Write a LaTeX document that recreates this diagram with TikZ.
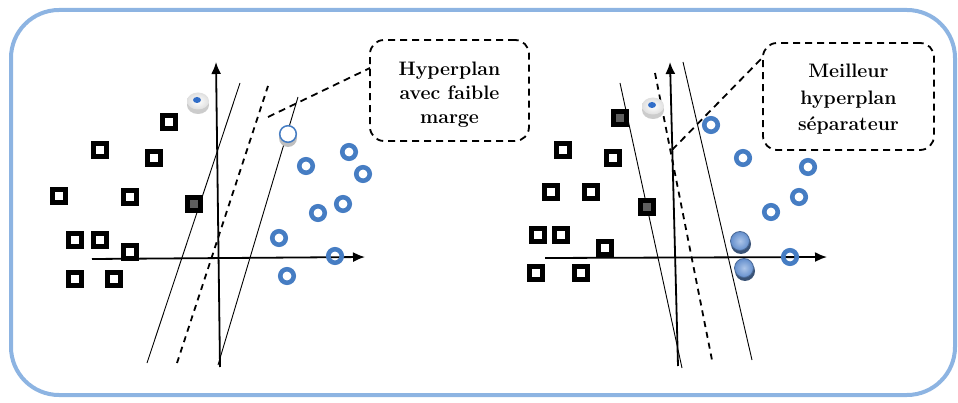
\documentclass[tikz,border=0pt]{standalone}
\usepackage{fontspec}
\usetikzlibrary{arrows.meta}
\definecolor{frameblue}{RGB}{141,180,226}
\definecolor{ringblue}{RGB}{70,125,195}
\definecolor{sqgray}{RGB}{95,95,95}
\definecolor{ballblue}{RGB}{105,150,215}
\definecolor{dotblue}{RGB}{50,110,200}
\begin{document}
\begin{tikzpicture}[x=1pt,y=-1pt,
  sq/.style={draw=black,line width=4.5pt,minimum size=13pt,inner sep=0pt,rectangle},
  gsq/.style={sq,fill=sqgray},
  ring/.style={draw=ringblue,line width=4.6pt,circle,minimum size=13.5pt,inner sep=0pt},
  axis/.style={line width=1.8pt,-{Latex[length=12pt,width=10pt]}},
  sep/.style={line width=0.9pt},
  mid/.style={line width=1.8pt,dash pattern=on 6pt off 5pt},
  callout/.style={draw,line width=1.8pt,dash pattern=on 7pt off 5pt,rounded corners=14pt,inner sep=0pt},
  lead/.style={line width=1.8pt,dash pattern=on 7pt off 5pt},
  lbl/.style={font=\fontsize{19.5}{24}\selectfont\bfseries,align=center,inner sep=0pt},
  bball/.style={inner color=ballblue!55!white,outer color=ballblue!95!black,draw=ballblue!70!black,line width=0.8pt}]
\useasboundingbox (0,0) rectangle (958,403);
% frame
\draw[frameblue,line width=4pt,rounded corners=48pt] (11,10) rectangle (955,395);

%% ---------- left panel ----------
\draw[axis] (92,259) -- (365,257);
\draw[axis] (220,367) -- (216,62);
\draw[sep] (147,363) -- (240,83);
\draw[mid] (177,363) -- (268,86);
\draw[sep] (218,365) -- (298,97);

\node[sq] (a1) at (169,122) {};
\node[sq] (a2) at (100,150) {};
\node[sq] (a3) at (154,158) {};
\node[sq] (a4) at (59,196) {};
\node[sq] (a5) at (130,197) {};
\node[gsq] (a6) at (194,204) {};
\node[sq] (a7) at (75,240) {};
\node[sq] (a8) at (100,240) {};
\node[sq] (a9) at (130,252) {};
\node[sq] (a10) at (75,279) {};
\node[sq] (a11) at (114,279) {};

\node[ring] (b1) at (306,166) {};
\node[ring] (b2) at (349,152) {};
\node[ring] (b3) at (363,174) {};
\node[ring] (b4) at (343,204) {};
\node[ring] (b5) at (318,213) {};
\node[ring] (b6) at (279,238) {};
\node[ring] (b7) at (335,256) {};
\node[ring] (b8) at (287,276) {};

% support vectors (left)
\fill[gray!40] (198,105) ellipse (11pt and 9pt);
\shade[inner color=white,outer color=gray!25] (198,101) ellipse (11pt and 8.5pt);
\fill[dotblue] (197,100) ellipse (4pt and 3pt);
\fill[gray!50] (288,138) circle (9pt);
\filldraw[fill=white,draw=ringblue,line width=1.5pt] (288,134) circle (8.3pt);

% callout left
\node[callout,minimum width=159pt,minimum height=101pt] (c1) at (449.5,90.5) {};
\node[lbl] (t1) at (449.5,95) {Hyperplan\\avec faible\\marge};
\coordinate (l1s) at (268,117);
\coordinate (l1e) at (370,68);
\draw[lead] (l1s) -- (l1e);

%% ---------- right panel ----------
\draw[axis] (545,258) -- (827,257);
\draw[axis] (678,366) -- (670,62);
\draw[sep] (620,83) -- (682,368);
\draw[mid] (655,73) -- (712,360);
\draw[sep] (683,62) -- (752,360);

\node[gsq] (r1) at (620,118) {};
\node[sq] (r2) at (563,150) {};
\node[sq] (r3) at (613,158) {};
\node[sq] (r4) at (551,192) {};
\node[sq] (r5) at (591,192) {};
\node[gsq] (r6) at (647,207) {};
\node[sq] (r7) at (538,235) {};
\node[sq] (r8) at (561,235) {};
\node[sq] (r9) at (605,248) {};
\node[sq] (r10) at (536,273) {};
\node[sq] (r11) at (581,273) {};

\node[ring] (s1) at (711,125) {};
\node[ring] (s2) at (743,158) {};
\node[ring] (s3) at (808,167) {};
\node[ring] (s4) at (799,197) {};
\node[ring] (s5) at (771,212) {};
\node[ring] (s6) at (790,257) {};

% support vectors (right)
\fill[gray!40] (653,110) ellipse (11pt and 9pt);
\shade[inner color=white,outer color=gray!25] (653,106) ellipse (11pt and 8.5pt);
\fill[dotblue] (652,105) ellipse (4pt and 3pt);
\fill[ballblue!55!black] (741,244) circle (10pt);
\shade[bball] (740,241) circle (9.5pt);
\fill[ballblue!55!black] (745,271) circle (10pt);
\shade[bball] (744,268) circle (9.5pt);

% callout right
\node[callout,minimum width=171pt,minimum height=107pt] (c2) at (848.5,96.5) {};
\node[lbl,font=\fontsize{19.5}{26.5}\selectfont\bfseries] (t2) at (848.5,99.5) {Meilleur\\hyperplan\\séparateur};
\coordinate (l2s) at (672,150);
\coordinate (l2e) at (763,57);
\draw[lead] (l2s) -- (l2e);
\end{tikzpicture}
\end{document}
